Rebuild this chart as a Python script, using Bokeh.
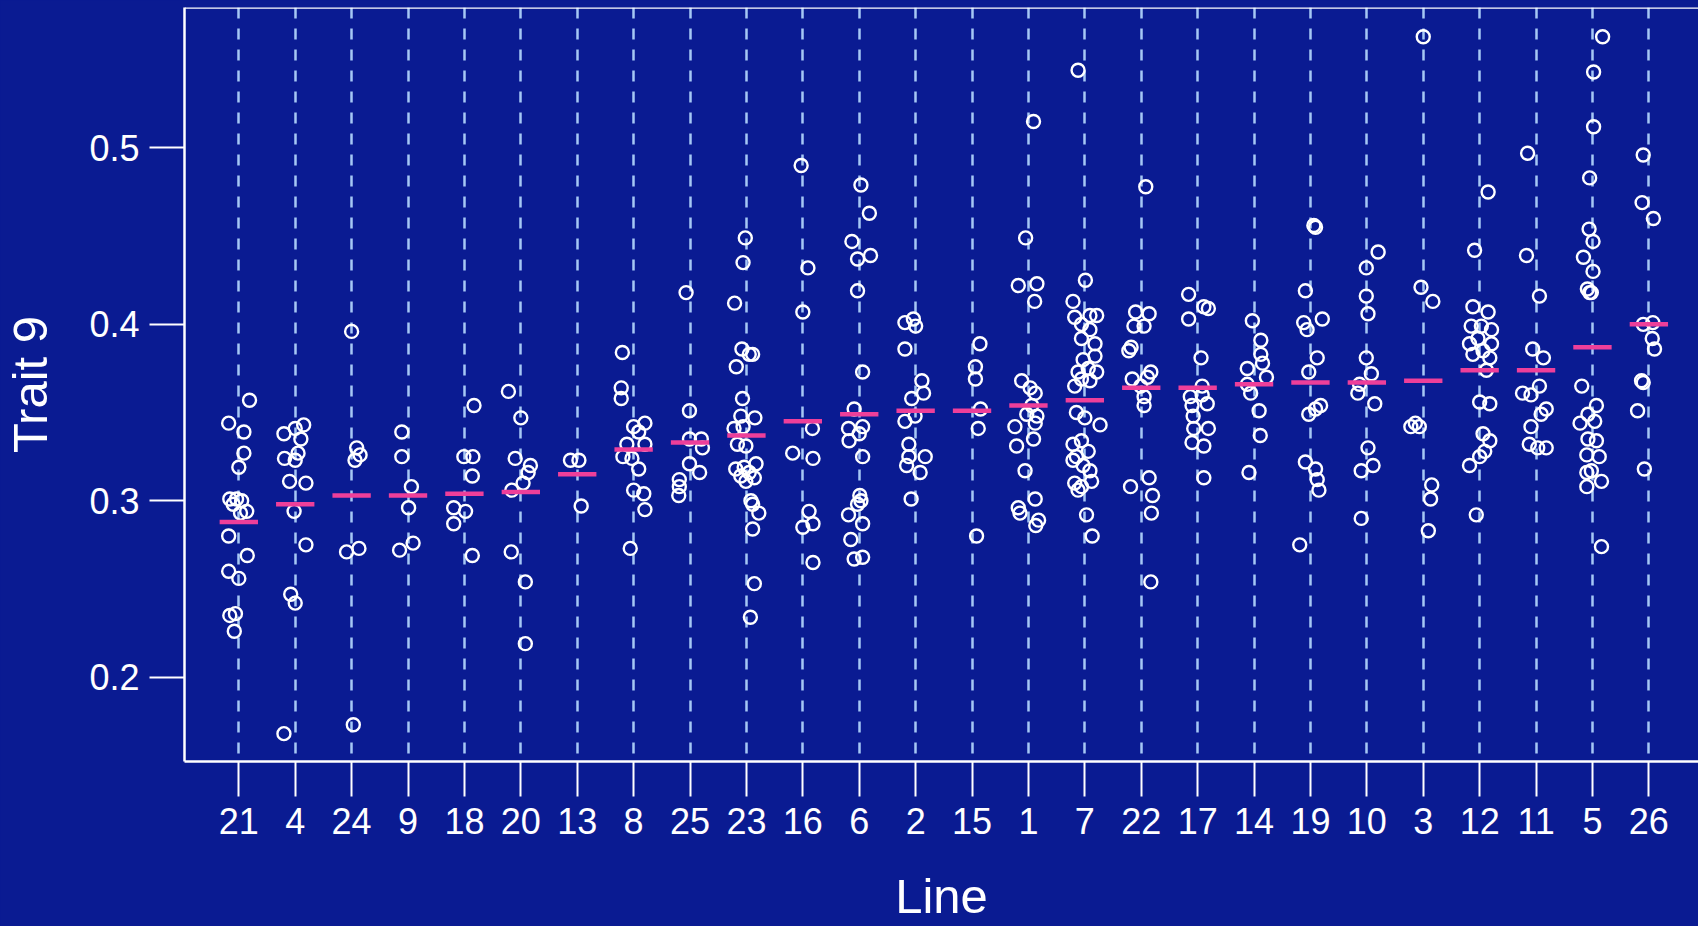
from bokeh.plotting import figure
from bokeh.models import FixedTicker, Span
from bokeh.embed import file_html
from bokeh.resources import INLINE

# ---------------- data ----------------
lines = ["21", "4", "24", "9", "18", "20", "13", "8", "25", "23", "16", "6", "2",
         "15", "1", "7", "22", "17", "14", "19", "10", "3", "12", "11", "5", "26"]

line_means = [0.288, 0.298, 0.303, 0.303, 0.304, 0.305, 0.315, 0.329, 0.333, 0.337,
              0.345, 0.349, 0.351, 0.351, 0.354, 0.357, 0.364, 0.364, 0.366, 0.367,
              0.367, 0.368, 0.374, 0.374, 0.387, 0.400]

values_21 = [0.357, 0.344, 0.339, 0.327, 0.319, 0.301, 0.301, 0.300, 0.298, 0.294, 0.293,
             0.280, 0.269, 0.260, 0.256, 0.235, 0.236, 0.226]
jitter_21 = [0.19, -0.18, 0.09, 0.09, 0.0, -0.16, -0.04, 0.05, -0.10, 0.14, 0.03,
             -0.18, 0.15, -0.18, 0.0, -0.16, -0.06, -0.08]
values_4 = [0.338, 0.341, 0.343, 0.335, 0.327, 0.324, 0.323, 0.311, 0.310, 0.294, 0.275,
            0.247, 0.242, 0.168]
jitter_4 = [-0.2, 0.0, 0.15, 0.1, 0.05, -0.19, 0.0, -0.1, 0.19, -0.02, 0.19, -0.08, 0.0, -0.2]
values_24 = [0.396, 0.330, 0.326, 0.323, 0.271, 0.273, 0.173]
jitter_24 = [0.0, 0.09, 0.15, 0.06, -0.09, 0.13, 0.03]
values_9 = [0.339, 0.325, 0.308, 0.296, 0.272, 0.276]
jitter_9 = [-0.11, -0.11, 0.06, 0.01, -0.15, 0.09]
values_18 = [0.354, 0.325, 0.325, 0.314, 0.296, 0.294, 0.287, 0.269]
jitter_18 = [0.17, -0.01, 0.15, 0.14, -0.19, 0.02, -0.19, 0.14]
values_20 = [0.362, 0.347, 0.324, 0.320, 0.316, 0.310, 0.306, 0.271, 0.254, 0.219]
jitter_20 = [-0.22, 0.0, -0.1, 0.17, 0.13, 0.04, -0.16, -0.17, 0.08, 0.08]
values_13 = [0.323, 0.323, 0.297]
jitter_13 = [-0.12, 0.03, 0.07]
values_8 = [0.384, 0.364, 0.358, 0.342, 0.344, 0.339, 0.332, 0.332, 0.325, 0.324, 0.318,
            0.306, 0.304, 0.295, 0.273]
jitter_8 = [-0.2, -0.22, -0.22, 0.0, 0.2, 0.09, -0.12, 0.2, -0.19, -0.03, 0.09, 0.0, 0.18,
            0.2, -0.06]
values_25 = [0.418, 0.351, 0.335, 0.335, 0.330, 0.321, 0.316, 0.312, 0.308, 0.303]
jitter_25 = [-0.07, -0.01, -0.01, 0.2, 0.22, -0.01, 0.17, -0.19, -0.19, -0.2]
values_23 = [0.449, 0.435, 0.412, 0.386, 0.383, 0.383, 0.376, 0.358, 0.348, 0.347, 0.341,
             0.342, 0.332, 0.331, 0.318, 0.319, 0.321, 0.316, 0.314, 0.313, 0.311, 0.300,
             0.298, 0.293, 0.284, 0.253, 0.234]
jitter_23 = [-0.02, -0.06, -0.21, -0.08, 0.11, 0.05, -0.18, -0.07, -0.1, 0.15, -0.22,
             -0.06, -0.16, -0.01, -0.19, -0.04, 0.17, 0.05, -0.1, 0.14, -0.01, 0.08,
             0.11, 0.22, 0.11, 0.14, 0.07]
values_16 = [0.490, 0.432, 0.407, 0.341, 0.327, 0.324, 0.294, 0.287, 0.285, 0.265]
jitter_16 = [-0.03, 0.09, 0.0, 0.17, -0.18, 0.18, 0.11, 0.18, 0.0, 0.18]
values_6 = [0.479, 0.463, 0.447, 0.437, 0.439, 0.419, 0.373, 0.352, 0.342, 0.341, 0.334,
            0.338, 0.325, 0.303, 0.300, 0.298, 0.292, 0.287, 0.278, 0.267, 0.268]
jitter_6 = [0.03, 0.18, -0.13, -0.03, 0.2, -0.03, 0.06, -0.09, 0.06, -0.19, -0.18, 0.0,
            0.06, 0.01, 0.03, -0.03, -0.19, 0.06, -0.15, -0.09, 0.06]
values_2 = [0.401, 0.403, 0.399, 0.386, 0.368, 0.358, 0.361, 0.345, 0.348, 0.332, 0.325,
            0.320, 0.325, 0.316, 0.301]
jitter_2 = [-0.19, -0.04, 0.0, -0.19, 0.11, -0.07, 0.14, -0.19, -0.01, -0.12, -0.12,
            -0.16, 0.17, 0.08, -0.08]
values_15 = [0.389, 0.376, 0.369, 0.352, 0.341, 0.280]
jitter_15 = [0.14, 0.06, 0.06, 0.15, 0.11, 0.08]
values_1 = [0.515, 0.449, 0.422, 0.423, 0.413, 0.368, 0.364, 0.361, 0.354, 0.349, 0.348,
            0.342, 0.344, 0.331, 0.335, 0.317, 0.296, 0.293, 0.301, 0.289, 0.286]
jitter_1 = [0.09, -0.05, -0.18, 0.15, 0.11, -0.12, 0.03, 0.12, 0.06, -0.03, 0.15, -0.24,
            0.12, -0.21, 0.09, -0.06, -0.18, -0.15, 0.12, 0.18, 0.13]
values_7 = [0.544, 0.425, 0.413, 0.404, 0.405, 0.400, 0.405, 0.397, 0.392, 0.389, 0.382,
            0.380, 0.373, 0.375, 0.373, 0.369, 0.368, 0.365, 0.350, 0.347, 0.343, 0.332,
            0.334, 0.328, 0.325, 0.323, 0.320, 0.317, 0.311, 0.310, 0.308, 0.306, 0.292,
            0.280]
jitter_7 = [-0.12, 0.01, -0.21, -0.18, 0.09, -0.06, 0.21, 0.09, -0.06, 0.18, 0.18, -0.03,
            -0.12, 0.06, 0.21, -0.06, 0.09, -0.18, -0.15, 0.0, 0.27, -0.21, -0.06, 0.06,
            -0.15, -0.21, -0.03, 0.09, 0.12, -0.18, -0.06, -0.12, 0.03, 0.13]
values_22 = [0.478, 0.407, 0.406, 0.399, 0.399, 0.387, 0.385, 0.369, 0.373, 0.370, 0.365,
             0.359, 0.354, 0.308, 0.313, 0.303, 0.293, 0.254]
jitter_22 = [0.08, -0.1, 0.14, -0.13, 0.05, -0.18, -0.22, -0.16, 0.17, 0.11, -0.01, 0.05,
             0.05, -0.19, 0.14, 0.2, 0.18, 0.17]
values_17 = [0.417, 0.403, 0.410, 0.409, 0.381, 0.365, 0.359, 0.360, 0.354, 0.355, 0.348,
             0.341, 0.341, 0.333, 0.331, 0.313]
jitter_17 = [-0.16, -0.16, 0.11, 0.19, 0.06, 0.08, -0.13, 0.08, -0.1, 0.17, -0.08, -0.07,
             0.19, -0.1, 0.11, 0.11]
values_14 = [0.402, 0.391, 0.383, 0.375, 0.378, 0.370, 0.366, 0.361, 0.351, 0.337, 0.316]
jitter_14 = [-0.03, 0.12, 0.12, -0.12, 0.15, 0.22, -0.12, -0.06, 0.09, 0.11, -0.09]
values_19 = [0.456, 0.455, 0.419, 0.403, 0.401, 0.397, 0.381, 0.373, 0.354, 0.349, 0.352,
             0.322, 0.318, 0.312, 0.306, 0.275]
jitter_19 = [0.06, 0.09, -0.09, 0.21, -0.12, -0.06, 0.12, -0.03, 0.18, -0.03, 0.09,
             -0.09, 0.09, 0.12, 0.15, -0.19]
values_10 = [0.432, 0.441, 0.416, 0.406, 0.381, 0.372, 0.366, 0.361, 0.355, 0.330, 0.317,
             0.320, 0.290]
jitter_10 = [-0.01, 0.2, -0.01, 0.02, -0.01, 0.08, -0.13, -0.16, 0.14, 0.02, -0.1, 0.11, -0.1]
values_3 = [0.563, 0.421, 0.413, 0.342, 0.344, 0.342, 0.309, 0.301, 0.283]
jitter_3 = [0.0, -0.04, 0.17, -0.22, -0.14, -0.07, 0.15, 0.13, 0.09]
values_12 = [0.475, 0.442, 0.410, 0.407, 0.399, 0.399, 0.397, 0.389, 0.392, 0.389, 0.383,
             0.385, 0.381, 0.374, 0.356, 0.355, 0.338, 0.334, 0.328, 0.325, 0.320, 0.292]
jitter_12 = [0.15, -0.09, -0.12, 0.15, -0.15, 0.03, 0.21, -0.18, -0.03, 0.21, -0.12, 0.06,
             0.18, 0.12, 0.0, 0.18, 0.06, 0.18, 0.09, 0.0, -0.18, -0.06]
values_11 = [0.497, 0.439, 0.416, 0.386, 0.381, 0.365, 0.361, 0.360, 0.352, 0.349, 0.342,
             0.332, 0.330, 0.330]
jitter_11 = [-0.15, -0.17, 0.06, -0.06, 0.13, 0.06, -0.24, -0.09, 0.18, 0.09, -0.09, -0.12,
             0.03, 0.18]
values_5 = [0.563, 0.543, 0.512, 0.483, 0.454, 0.447, 0.438, 0.430, 0.420, 0.418, 0.418,
            0.365, 0.354, 0.349, 0.344, 0.345, 0.335, 0.334, 0.326, 0.325, 0.317, 0.316,
            0.308, 0.311, 0.274]
jitter_5 = [0.18, 0.02, 0.02, -0.05, -0.06, 0.01, -0.16, 0.01, -0.09, -0.05, -0.02, -0.19,
            0.07, -0.08, -0.22, 0.04, -0.08, 0.07, -0.1, 0.12, -0.02, -0.1, -0.1, 0.16, 0.16]
values_26 = [0.496, 0.469, 0.460, 0.400, 0.401, 0.392, 0.386, 0.368, 0.367, 0.351, 0.318]
jitter_26 = [-0.1, -0.12, 0.08, -0.1, 0.07, 0.06, 0.1, -0.13, -0.1, -0.2, -0.08]

y_ticks = [0.2, 0.3, 0.4, 0.5]

# ---------------- assemble ----------------
g = globals()
xs, ys = [], []
for i, name in enumerate(lines):
    vals = g["values_" + name]
    jit = g["jitter_" + name]
    for v, j in zip(vals, jit):
        xs.append(i + 1 + j)
        ys.append(v)

positions = list(range(1, len(lines) + 1))

BG = "#0a1b92"
PINK = "#ee3f9a"
DASH = "#a6c8f5"
FONT = "Liberation Sans"

Y0, Y1 = 0.1522, 0.5796
X0, X1 = 0.037, 26.88

p = figure(width=1698, height=926, output_backend="svg", toolbar_location=None,
           x_range=(X0, X1), y_range=(Y0, Y1),
           min_border_left=184, min_border_right=0, min_border_top=7,
           min_border_bottom=165,
           background_fill_color=BG, border_fill_color=BG, outline_line_color=None)
p.grid.visible = False

p.vspan(x=positions, line_color=DASH, line_width=2.5, line_dash="11 10")

p.scatter(x=xs, y=ys, marker="circle", size=13, fill_color=None,
          line_color="white", line_width=2.4)

p.segment(x0=[x - 0.34 for x in positions], y0=line_means,
          x1=[x + 0.34 for x in positions], y1=line_means,
          line_color=PINK, line_width=4.5)

p.add_layout(Span(location=Y1, dimension="width", line_color="white", line_width=2.5))

p.xaxis.ticker = FixedTicker(ticks=positions)
p.xaxis.major_label_overrides = {pos: name for pos, name in zip(positions, lines)}
p.yaxis.ticker = FixedTicker(ticks=y_ticks)
p.xaxis.axis_label = "Line"
p.yaxis.axis_label = "Trait 9"

for ax in (p.xaxis, p.yaxis):
    ax.axis_line_color = "white"
    ax.axis_line_width = 2.5
    ax.major_tick_line_color = "white"
    ax.major_tick_line_width = 2
    ax.major_tick_out = 35
    ax.major_tick_in = 0
    ax.minor_tick_line_color = None
    ax.major_label_text_color = "white"
    ax.major_label_text_font = FONT
    ax.major_label_text_font_size = "36px"
    ax.axis_label_text_color = "white"
    ax.axis_label_text_font = FONT
    ax.axis_label_text_font_size = "49px"
    ax.axis_label_text_font_style = "normal"

p.xaxis.major_label_standoff = 11
p.yaxis.major_label_standoff = 10
p.xaxis.axis_label_standoff = 32
p.yaxis.axis_label_standoff = 29

html = file_html(p, INLINE)
html = html.replace("<head>", "<head><style>html,body{background:%s;}</style>" % BG, 1)
open("out.html", "w").write(html)
